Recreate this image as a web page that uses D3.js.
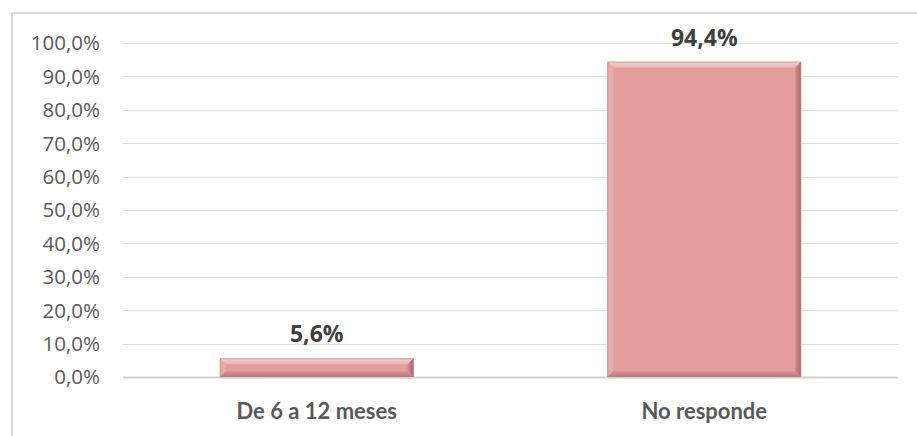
<!DOCTYPE html>
<html>
<head>
<meta charset="utf-8">
<script src="https://cdn.jsdelivr.net/npm/d3@7"></script>
<style>
  html, body { margin: 0; padding: 0; background: #fff; }
  svg { display: block; font-family: "Open Sans", Lato, sans-serif; }
</style>
</head>
<body>
<svg id="chart"></svg>
<script>
// chart data
const categories = ['De 6 a 12 meses', 'No responde'];
const values = [0.056, 0.944];
const yTicks = [0, 0.1, 0.2, 0.3, 0.4, 0.5, 0.6, 0.7, 0.8, 0.9, 1.0];

const width = 917;
const height = 436;
const margin = { top: 43, right: 19, bottom: 59, left: 123 };

const fmt = v => (v * 100).toFixed(1).replace('.', ',') + '%';

const svg = d3.select('#chart')
  .attr('width', width)
  .attr('height', height);

// outer chart border (top and left only visible)
svg.append('path')
  .attr('d', 'M12,' + height + 'V13H' + width)
  .attr('fill', 'none')
  .attr('stroke', '#d9d9d9')
  .attr('stroke-width', 2);

const x = d3.scaleBand()
  .domain(categories)
  .range([margin.left, width - margin.right])
  .paddingInner(0.5)
  .paddingOuter(0.25);

const y = d3.scaleLinear()
  .domain([0, 1])
  .range([height - margin.bottom, margin.top]);

// gridlines
svg.append('g')
  .selectAll('line')
  .data(yTicks)
  .enter().append('line')
  .attr('x1', margin.left)
  .attr('x2', width - margin.right)
  .attr('y1', d => Math.round(y(d)) + 0.5)
  .attr('y2', d => Math.round(y(d)) + 0.5)
  .attr('stroke', d => d === 0 ? '#d0d0d0' : '#e0e0e0')
  .attr('stroke-width', d => d === 0 ? 2 : 1);

// y tick labels
svg.append('g')
  .selectAll('text')
  .data(yTicks)
  .enter().append('text')
  .attr('x', 100)
  .attr('y', d => y(d))
  .attr('dy', '0.36em')
  .attr('text-anchor', 'end')
  .attr('fill', '#595959')
  .style('font-size', '20.5px')
  .text(fmt);

// bevel gradients
const defs = svg.append('defs');
const topGrad = defs.append('linearGradient').attr('id', 'bevTop').attr('x1', 0).attr('y1', 0).attr('x2', 0).attr('y2', 1);
topGrad.append('stop').attr('offset', '0%').attr('stop-color', '#f7d3d1');
topGrad.append('stop').attr('offset', '100%').attr('stop-color', '#eab0ae');
const botGrad = defs.append('linearGradient').attr('id', 'bevBot').attr('x1', 0).attr('y1', 0).attr('x2', 0).attr('y2', 1);
botGrad.append('stop').attr('offset', '0%').attr('stop-color', '#d99391');
botGrad.append('stop').attr('offset', '100%').attr('stop-color', '#b97877');
const sideGrad = defs.append('linearGradient').attr('id', 'bevSide').attr('x1', 0).attr('y1', 0).attr('x2', 1).attr('y2', 0);
sideGrad.append('stop').attr('offset', '0%').attr('stop-color', '#d28c8a');
sideGrad.append('stop').attr('offset', '100%').attr('stop-color', '#a86a69');

const bev = 6;
const bars = svg.append('g')
  .selectAll('g')
  .data(categories.map((c, i) => ({ cat: c, val: values[i] })))
  .enter().append('g');

bars.each(function (d) {
  const g = d3.select(this);
  const x0 = x(d.cat), x1 = x0 + x.bandwidth();
  const y0 = y(d.val), y1 = y(0);
  const b = Math.min(bev, (y1 - y0) / 2);
  // base
  g.append('rect')
    .attr('x', x0).attr('y', y0)
    .attr('width', x1 - x0).attr('height', y1 - y0)
    .attr('fill', '#e39e9c');
  // top bevel
  g.append('path')
    .attr('d', `M${x0},${y0}H${x1}L${x1 - b},${y0 + b}H${x0 + b}Z`)
    .attr('fill', 'url(#bevTop)');
  // left bevel
  g.append('path')
    .attr('d', `M${x0},${y0}L${x0 + b},${y0 + b}V${y1 - b}L${x0},${y1}Z`)
    .attr('fill', '#e8aaa8');
  // right bevel
  g.append('path')
    .attr('d', `M${x1},${y0}L${x1 - b},${y0 + b}V${y1 - b}L${x1},${y1}Z`)
    .attr('fill', 'url(#bevSide)');
  // bottom bevel
  g.append('path')
    .attr('d', `M${x0},${y1}L${x0 + b},${y1 - b}H${x1 - b}L${x1},${y1}Z`)
    .attr('fill', 'url(#bevBot)');
  // outline
  g.append('rect')
    .attr('x', x0 + 0.5).attr('y', y0 + 0.5)
    .attr('width', x1 - x0 - 1).attr('height', y1 - y0 - 1)
    .attr('fill', 'none')
    .attr('stroke', '#b98584')
    .attr('stroke-opacity', 0.6);
});

// value labels
bars.append('text')
  .attr('x', d => x(d.cat) + x.bandwidth() / 2)
  .attr('y', d => y(d.val) - 16)
  .attr('text-anchor', 'middle')
  .attr('fill', '#404040')
  .style('font-size', '23px')
  .style('font-weight', 'bold')
  .text(d => fmt(d.val));

// category labels
svg.append('g')
  .selectAll('text')
  .data(categories)
  .enter().append('text')
  .attr('x', d => x(d) + x.bandwidth() / 2)
  .attr('y', height - 25)
  .attr('dy', '0.35em')
  .attr('text-anchor', 'middle')
  .attr('fill', '#595959')
  .style('font-family', 'Lato, sans-serif')
  .style('font-size', '22px')
  .style('font-weight', 'bold')
  .text(d => d);
</script>
</body>
</html>
